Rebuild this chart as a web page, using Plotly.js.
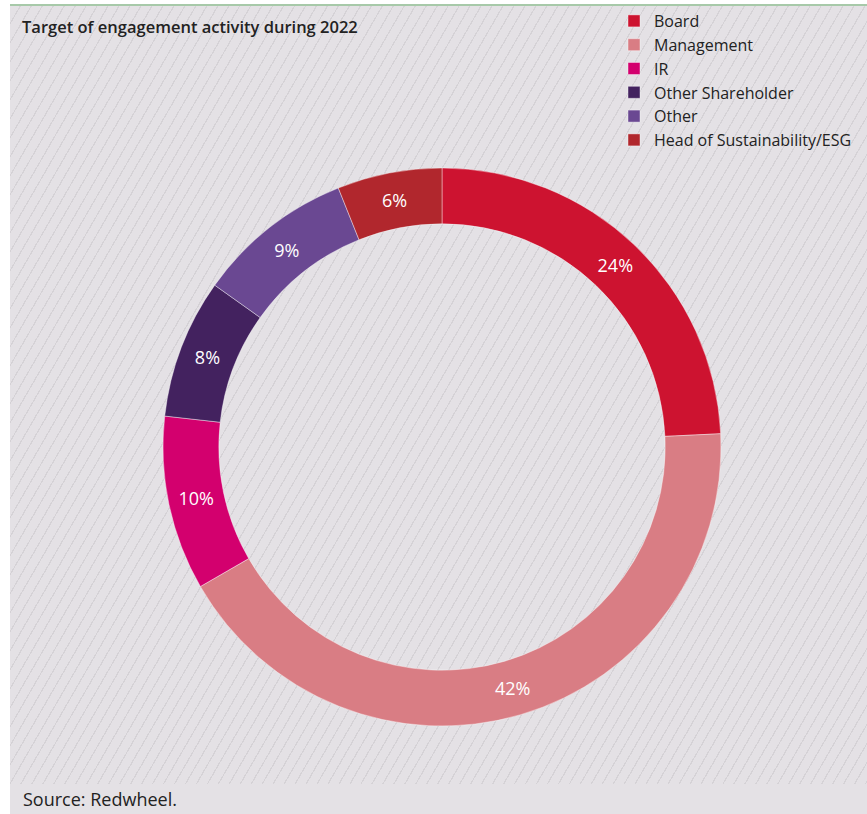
<!DOCTYPE html>
<html>
<head>
<meta charset="utf-8">
<script src="https://cdn.plot.ly/plotly-3.0.1.min.js"></script>
<style>
  html, body { margin: 0; padding: 0; background: #ffffff; }
  #wrap { position: relative; width: 867px; height: 814px; overflow: hidden; }
  #panel {
    position: absolute; left: 10px; top: 4px; width: 857px; height: 810px;
    background-color: #e4e1e5;
    border-top: 2px solid #a7c9a9;
    box-sizing: border-box;
  }
  #hatch {
    position: absolute; left: 0; top: 0; width: 100%; height: 778px;
    background-image: repeating-linear-gradient(120deg, rgba(0,0,0,0) 0px, rgba(0,0,0,0) 8.3px, #d5d2d6 8.3px, #d5d2d6 9.5px);
  }
  #chart { position: absolute; left: 0; top: 0; width: 867px; height: 814px; }
</style>
</head>
<body>
<div id="wrap">
  <div id="panel"><div id="hatch"></div></div>
  <div id="chart"></div>
</div>
<script>
const categories = ["Board", "Management", "IR", "Other Shareholder", "Other", "Head of Sustainability/ESG"];
const values = [24, 42, 10, 8, 9, 6];
const colors = ["#cd1330", "#d97d84", "#d3006e", "#43225f", "#6a4892", "#b1272d"];

const W = 867, H = 814;
const cx = 442, cy = 447, R = 279;

const trace = {
  type: "pie",
  labels: categories,
  values: values,
  sort: false,
  direction: "clockwise",
  rotation: 0,
  hole: 0.8,
  marker: { colors: colors, line: { color: "rgba(255,255,255,0.4)", width: 1 } },
  texttemplate: "%{value}%",
  textposition: "inside",
  insidetextorientation: "horizontal",
  textfont: { family: "Open Sans, sans-serif", size: 18, color: "#ffffff" },
  hoverinfo: "label+value",
  domain: {
    x: [(cx - R) / W, (cx + R) / W],
    y: [(H - cy - R) / H, (H - cy + R) / H]
  }
};

const layout = {
  width: W, height: H,
  margin: { l: 0, r: 0, t: 0, b: 0 },
  paper_bgcolor: "rgba(0,0,0,0)",
  plot_bgcolor: "rgba(0,0,0,0)",
  font: { family: "Open Sans, sans-serif", color: "#222222" },
  title: {
    text: "Target of engagement activity during 2022",
    x: 22 / W, xanchor: "left", xref: "paper",
    y: 1 - 27 / H, yanchor: "middle", yref: "paper",
    font: { family: "Open Sans, sans-serif", size: 16.5, weight: 600, color: "#222222" }
  },
  showlegend: true,
  legend: {
    x: 614 / W, xanchor: "left",
    y: 1 - 4 / H, yanchor: "top",
    traceorder: "normal",
    font: { family: "Open Sans, sans-serif", size: 16, color: "#222222" },
    bgcolor: "rgba(0,0,0,0)",
    itemclick: false
  },
  annotations: [{
    text: "Source: Redwheel.",
    xref: "paper", yref: "paper",
    x: 21 / W, xanchor: "left",
    y: 1 - 799 / H, yanchor: "middle",
    showarrow: false,
    font: { family: "Open Sans, sans-serif", size: 18, color: "#222222" }
  }]
};

Plotly.newPlot("chart", [trace], layout, { displayModeBar: false, staticPlot: true });
</script>
</body>
</html>
